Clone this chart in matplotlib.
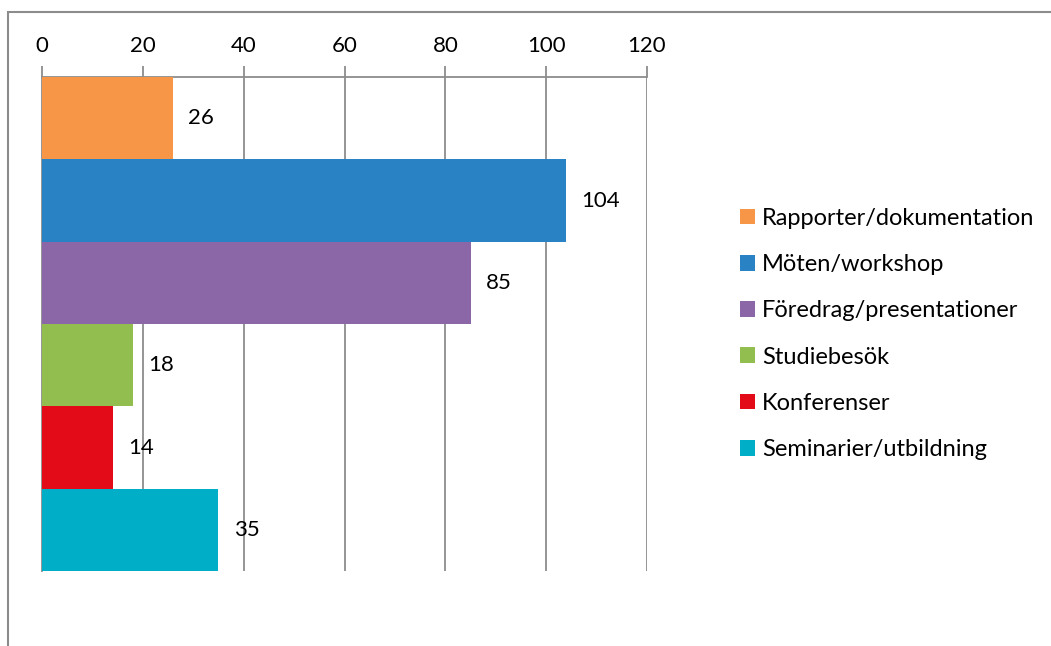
import matplotlib.pyplot as plt
from matplotlib.patches import Patch, Rectangle

categories = ['Rapporter/dokumentation', 'Möten/workshop', 'Föredrag/presentationer',
              'Studiebesök', 'Konferenser', 'Seminarier/utbildning']
values = [26, 104, 85, 18, 14, 35]
colors = ['#F79646', '#2882C4', '#8B67A8', '#92BE50', '#E30B18', '#00AEC8']
ticks = [0, 20, 40, 60, 80, 100, 120]

plt.rcParams['font.family'] = ['Lato', 'DejaVu Sans']

W, H = 1051, 646
fig = plt.figure(figsize=(W / 100, H / 100), dpi=100)
ax = fig.add_axes([42 / W, 1 - 571 / H, (647 - 42) / W, (571 - 77) / H])

# outer chart-area border (only top and left visible)
fig.patches.append(Rectangle((8 / W, -0.1), 1.2, 1.1 - 12 / H, transform=fig.transFigure,
                             fill=False, edgecolor='#8C8C8C', linewidth=1.5))

pos = list(range(len(categories)))
ax.barh(pos, values, height=1.0, color=colors, zorder=3)
for p, v in zip(pos, values):
    ax.text(v + 3, p, str(v), va='center', ha='left', fontsize=16, zorder=4)

ax.set_xlim(0, 120)
ax.set_ylim(len(categories) - 0.5, -0.5)
ax.set_xticks(ticks)
ax.xaxis.tick_top()
ax.tick_params(axis='x', direction='out', length=8, color='#8C8C8C', width=1.3,
               labelsize=16, pad=7)
ax.set_yticks([])
ax.grid(axis='x', color='#8C8C8C', linewidth=1.3, zorder=0)
for s in ['right', 'bottom']:
    ax.spines[s].set_visible(False)
ax.spines['top'].set_color('#8C8C8C')
ax.spines['top'].set_linewidth(1.3)
ax.spines['left'].set_color('#8C8C8C')
ax.spines['left'].set_linewidth(1.3)

handles = [Patch(facecolor=c, edgecolor='none') for c in colors]
fig.legend(handles, categories, loc='upper left', bbox_to_anchor=(728 / W, 1 - 196 / H),
           frameon=False, prop={'size': 17}, handlelength=0.65, handleheight=0.65,
           handletextpad=0.3, labelspacing=1.07, borderpad=0)

fig.savefig('out.png', dpi=100)
